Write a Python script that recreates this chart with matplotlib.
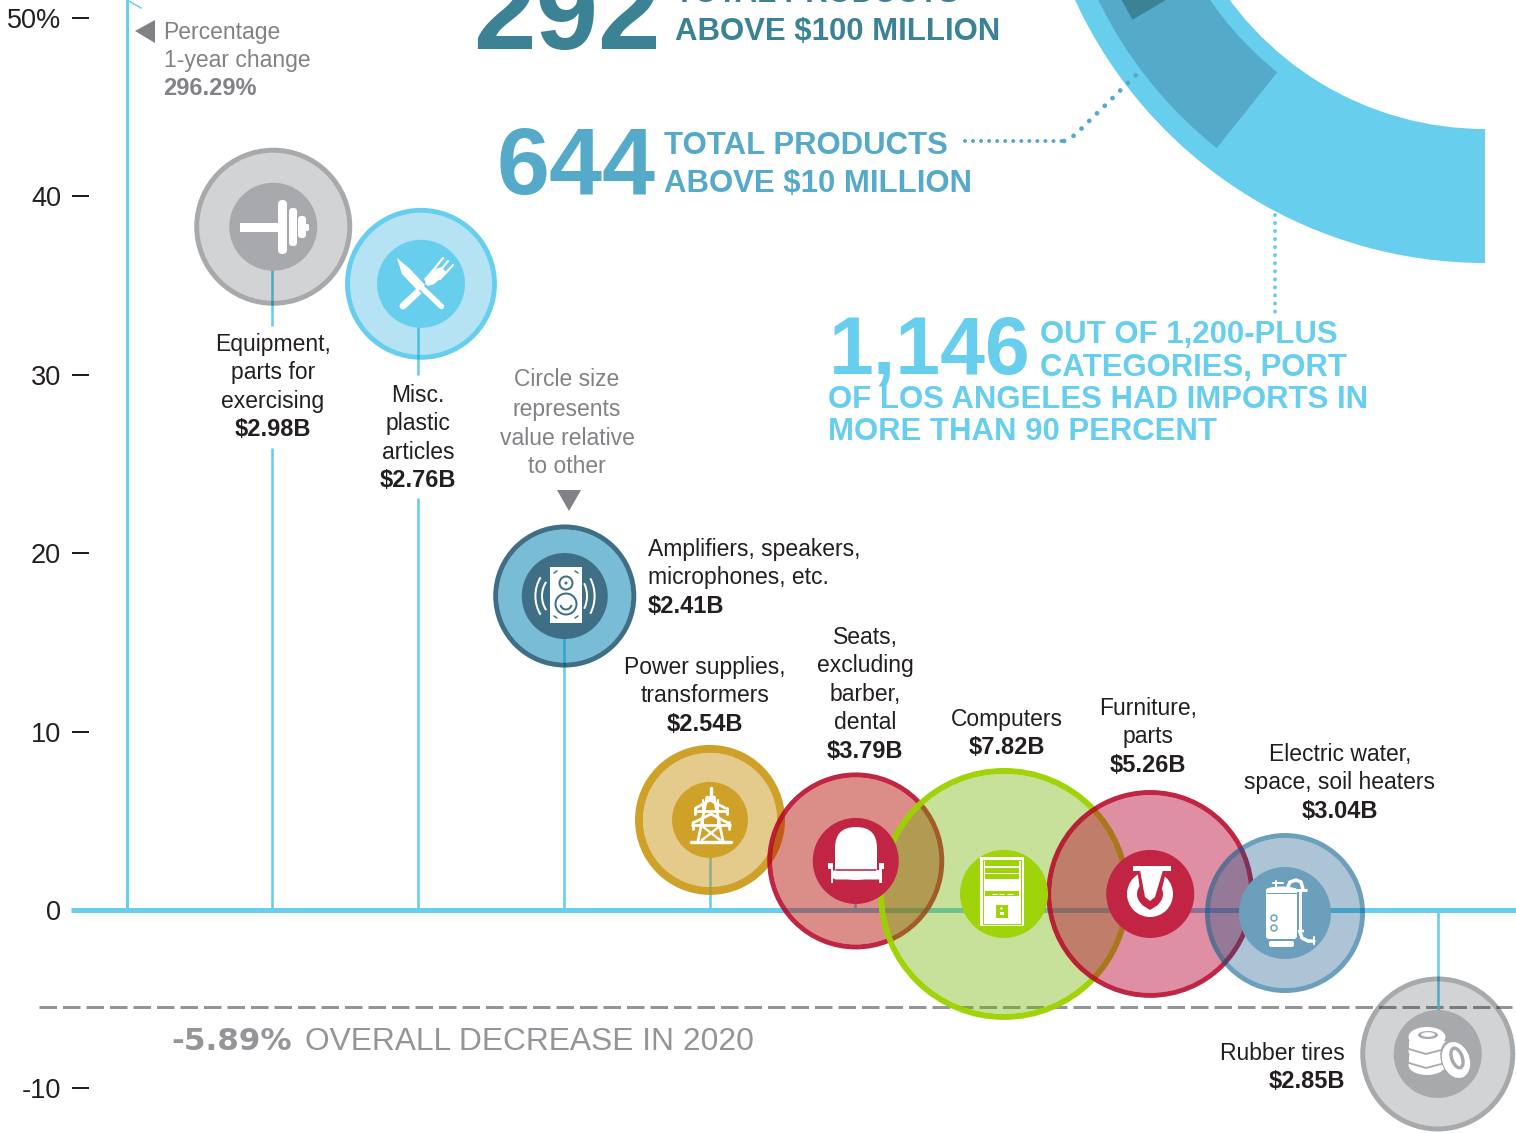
import numpy as np
import matplotlib
matplotlib.use("Agg")
import matplotlib.pyplot as plt
from matplotlib.colors import to_rgb
from matplotlib.patches import Wedge, Rectangle, FancyBboxPatch, Polygon, Circle, Ellipse, Arc

# ---------- data ----------
categories = [
    ["Equipment,", "parts for", "exercising"],
    ["Misc.", "plastic", "articles"],
    ["Amplifiers, speakers,", "microphones, etc."],
    ["Power supplies,", "transformers"],
    ["Seats,", "excluding", "barber,", "dental"],
    ["Computers"],
    ["Furniture,", "parts"],
    ["Electric water,", "space, soil heaters"],
    ["Rubber tires"],
]
value_billions = [2.98, 2.76, 2.41, 2.54, 3.79, 7.82, 5.26, 3.04, 2.85]
change_pct = [38.3, 35.1, 17.6, 5.05, 2.75, 0.9, 0.9, -0.17, -8.07]
outlier_pct = 296.29
overall_label = "-5.89%"
overall_line_pos = -5.44
y_ticks = [-10, 0, 10, 20, 30, 40, 50]
y_tick_labels = ["-10", "0", "10", "20", "30", "40", "50%"]
ring_angles_start = [90, 128.6, 149.5]

# ---------- style ----------
PXY = 17.84
PXX = 145.75
X0 = 126.5
Y0 = 910
W, H = 1516, 1133
INK = "#231F20"
GREY = "#808285"
BLUE = "#67CEEE"
MID = "#55A9C9"
TEAL = "#3A8294"
FONT = "Liberation Sans"

fills = ["#D1D3D4", "#B5E3F4", "#79BDD6", "#E5CB8C", "#DB8E88", "#C7E09A", "#DF8FA3", "#ADC4D6", "#D1D3D4"]
rings = ["#A7A9AC", "#67CEEE", "#3F6F86", "#CFA128", "#C12543", "#A0D40A", "#C12543", "#6B9FBB", "#A7A9AC"]
ring_w = [5, 5, 5, 8, 5, 6, 5, 5, 5]
disc_r = [44, 44, 43, 38, 43, 44, 44, 46, 44]
bubble_dx = [1, 3, 1, 0.5, 0.5, 3, 3.5, -7.5, -0.5]
R_SCALE = 45.3
r_adjust = [0.8, 0.7, 1.2, 2.8, 0.3, -0.7, 0, 1, 1]
label_x = [273, 418, 648, 705, 865, 1007, 1148, 1340, 1345]
label_y = [351, 402, 556, 674, 644, 726, 715, 761, 1060]
label_ha = ["center", "center", "left", "center", "center", "center", "center", "center", "right"]
stem_gaps = {0: (448, 326), 1: (498, 375)}


def pt(px):
    return px * 0.72


def mul(c):
    """RGBA that darkens what lies below, like a multiply blend."""
    r = np.array(to_rgb(c))
    a = max(1 - r.min(), 0.01)
    rgb = np.clip((r - (1 - a)) / a, 0, 1)
    return (float(rgb[0]), float(rgb[1]), float(rgb[2]), float(a))


def yv(px):
    return (Y0 - px) / PXY


def xv(px):
    return (px - X0) / PXX


fig = plt.figure(figsize=(W / 100, H / 100), dpi=100, facecolor="white")
ax = fig.add_axes([0, 0, 1, 1])
ax.set_xlim(xv(0), xv(W))
ax.set_ylim(yv(H), yv(0))
ax.patch.set_visible(False)
for s in ["top", "right", "bottom"]:
    ax.spines[s].set_visible(False)
ax.spines["left"].set_position(("data", xv(89)))
ax.spines["left"].set_color("none")
ax.set_xticks([])
ax.set_yticks(y_ticks)
ax.set_yticklabels(y_tick_labels, fontname=FONT, fontsize=19.5, color=INK)
ax.tick_params(axis="y", length=pt(17), width=pt(2), color=INK, pad=pt(11), direction="out")

# top layer in pixels for the decoration and the text
px = fig.add_axes([0, 0, 1, 1])
px.set_xlim(0, W)
px.set_ylim(H, 0)
px.axis("off")

# ---------- chart marks ----------
idx = np.arange(1, len(value_billions) + 1)
ax.hlines(overall_line_pos, xv(39), xv(1512), color=mul("#939598"), lw=pt(3),
          linestyles=[(0, (17.5 / 3, 6 / 3))], zorder=1)
ax.hlines(0, xv(71), xv(W), color=BLUE, lw=pt(5), zorder=2)
ax.vlines(0, 0, outlier_pct, color=BLUE, lw=pt(3), zorder=2)
for i, (x, v) in enumerate(zip(idx, change_pct)):
    if i in stem_gaps:
        lo, hi = stem_gaps[i]
        ax.vlines(x, 0, yv(lo), color=BLUE, lw=pt(2.6), zorder=2)
        ax.vlines(x, yv(hi), v, color=BLUE, lw=pt(2.6), zorder=2)
    else:
        ax.vlines(x, 0, v, color=BLUE, lw=pt(2.6), zorder=2)

for i, (x, v, b) in enumerate(zip(idx, change_pct, value_billions)):
    r = R_SCALE * np.sqrt(b) + r_adjust[i]
    cx = x + bubble_dx[i] / PXX
    w = ring_w[i]
    # two line widths keep the marker at its sub-pixel position
    ax.scatter([cx], [v], s=pt(2 * (r - w)) ** 2, color=[mul(fills[i])], linewidths=[0, 0], zorder=3 + i * 0.1)
    ax.scatter([cx], [v], s=pt(2 * (r - w / 2)) ** 2, facecolors="none", edgecolors=[mul(rings[i])],
               linewidths=[pt(w), pt(w)], zorder=3 + i * 0.1 + 0.01)
    ax.scatter([cx], [v], s=pt(2 * disc_r[i]) ** 2, color=[rings[i]], linewidths=[0, 0], zorder=5)

# ---------- donut ----------
C = (1485, -188)
px.add_patch(Wedge(C, 451, ring_angles_start[0], 215, width=134, fc=BLUE, ec="none", zorder=1))
px.add_patch(Wedge(C, 430, ring_angles_start[1], 215, width=97, fc=MID, ec="none", zorder=2))
px.add_patch(Wedge(C, 409, ring_angles_start[2], 215, width=62, fc=TEAL, ec="none", zorder=3))

px.plot([965, 1066], [141, 141], color=MID, lw=pt(4), linestyle=(0, (0.01, 2.0)), dash_capstyle="round", zorder=4)
px.plot([1064, 1075, 1137], [141, 135, 74], color=MID, lw=pt(4.8), linestyle=(0, (0.01, 2.25)), dash_capstyle="round", zorder=4)
px.plot([1275, 1275], [215, 312], color=BLUE, lw=pt(4), linestyle=(0, (0.01, 2.0)), dash_capstyle="round", zorder=4)


# ---------- text ----------
def T(x, y, s, size=16.5, color=INK, weight="normal", ha="left", family=FONT):
    px.text(x, y, s, fontsize=size, color=color, fontweight=weight, ha=ha, va="baseline",
            fontfamily=family, zorder=20)


for i, lines in enumerate(categories):
    y = label_y[i]
    for ln_ in lines:
        T(label_x[i], y, ln_, ha=label_ha[i])
        y += 28.4
    T(label_x[i], y, f"${value_billions[i]:.2f}B", size=17, weight="bold", ha=label_ha[i])

T(163.5, 39, "Percentage", color=GREY)
T(163.5, 67.5, "1-year change", color=GREY)
T(163.5, 95, f"{outlier_pct:.2f}%", size=17, weight="bold", color=GREY)
for y, s in zip([386, 416, 445, 473], ["Circle size", "represents", "value relative", "to other"]):
    T(567, y, s, color=GREY, ha="center")

px.add_patch(Polygon([(135, 31), (155, 20), (155, 43)], fc=GREY, ec="none"))
px.add_patch(Polygon([(557, 490), (581, 490), (569, 511)], fc=GREY, ec="none"))
px.plot([127, 141], [0, 8], color=BLUE, lw=pt(1.5))

T(473, 49, "292", size=81, weight="bold", color=TEAL)
T(675, 2, "TOTAL PRODUCTS", size=22.4, weight="bold", color=TEAL)
T(675, 40, "ABOVE $100 MILLION", size=22.4, weight="bold", color=TEAL)
T(497, 194, "644", size=68.5, weight="bold", color=MID)
T(664, 154, "TOTAL PRODUCTS", size=22.4, weight="bold", color=MID)
T(664, 192, "ABOVE $10 MILLION", size=22.4, weight="bold", color=MID)
T(829, 373, "1,146", size=58, weight="bold", color=BLUE)
T(1040, 343, "OUT OF 1,200-PLUS", size=22.4, weight="bold", color=BLUE)
T(1040, 376, "CATEGORIES, PORT", size=22.4, weight="bold", color=BLUE)
T(828, 408, "OF LOS ANGELES HAD IMPORTS IN", size=22.4, weight="bold", color=BLUE)
T(828, 440, "MORE THAN 90 PERCENT", size=22.4, weight="bold", color=BLUE)

T(171, 1050, overall_label, size=22.4, weight="bold", color="#939598", family="DejaVu Sans")
T(305, 1050, "OVERALL DECREASE IN 2020", size=22.9, color="#939598")

# ---------- icons ----------
WH = "white"


def rr(x0, y0, x1, y1, rad, fc=WH):
    px.add_patch(FancyBboxPatch((x0 + rad, y0 + rad), x1 - x0 - 2 * rad, y1 - y0 - 2 * rad,
                                boxstyle=f"round,pad={rad}", fc=fc, ec="none", zorder=10))


def ln(xs, ys, w=2, c=WH, cap="round"):
    px.plot(xs, ys, color=c, lw=pt(w), solid_capstyle=cap, zorder=11)


def poly(p, c=WH, z=10):
    px.add_patch(Polygon(p, fc=c, ec="none", zorder=z))


def circ(x, y, r, fc=WH, ec="none", lw=0, z=11):
    px.add_patch(Circle((x, y), r, fc=fc, ec=ec, lw=pt(lw), zorder=z))


# barbell
px.add_patch(Rectangle((240, 222.5), 40, 9.5, fc=WH, ec="none", zorder=10))
rr(278, 200, 287, 254, 4.4)
rr(289, 208, 297, 246, 3.5)
rr(298, 216, 306, 238, 3.5)
rr(305, 224, 309, 231, 1.5)

# knife and fork
ln([403, 419], [306, 291], 7)
ln([419, 430], [291, 281], 3.5)
poly([(424, 279), (431, 271), (441, 267), (446, 272), (440, 279), (434, 284), (428, 286)], z=10.8)
ln([431, 443], [273, 258], 2.2)
ln([436, 448], [276, 261], 2.2)
ln([440, 453], [279, 265], 2.2)
M = rings[1]
ln([412, 441], [277, 306], 9.5, M)
ln([420, 441.5], [286, 306.5], 5.5)
px.add_patch(Polygon([(397, 258), (410, 269), (425, 285), (418, 291), (402, 274)], fc=WH, ec="none", zorder=12))

# speaker
D = rings[2]
px.add_patch(Rectangle((550, 567), 32, 56, fc=WH, ec="none", zorder=10))
circ(566, 583, 6.5, fc=WH, ec=D, lw=2)
circ(566, 583, 1.5, fc=D)
circ(566, 604, 10.5, fc=WH, ec=D, lw=2)
px.add_patch(Arc((566, 604), 11, 11, theta1=10, theta2=170, ec=D, lw=pt(2), zorder=12))
for x0, x1 in [(544, 585), (538, 592)]:
    ang = 30
    px.add_patch(Arc((562 + (x0 - 544) * 0.1, 596), 2 * (562 - x0) + 4, 46 if x0 == 544 else 62,
                     theta1=180 - ang * 1.4, theta2=180 + ang * 1.4, ec=WH, lw=pt(2), zorder=11))
    px.add_patch(Arc((570 - (x0 - 544) * 0.1, 596), 2 * (x1 - 570) + 4, 46 if x0 == 544 else 62,
                     theta1=-ang * 1.4, theta2=ang * 1.4, ec=WH, lw=pt(2), zorder=11))
for a, b in [((554, 573), (557, 571)), ((575, 571), (578, 573)), ((554, 616), (557, 618)), ((575, 618), (578, 616))]:
    ln([a[0], b[0]], [a[1], b[1]], 1.5, D)

# tower
ln([691, 731], [842, 842], 3.4)
ln([707, 698], [797, 841], 2.8)
ln([714, 723], [797, 841], 2.8)
ln([710.5, 710.5], [788, 800], 3.4)
ln([707, 714], [797, 797], 2.8)
ln([696, 710, 725], [808, 800, 808], 2.8)
ln([695, 727], [811, 811], 2.8)
ln([695, 695], [808, 814], 2.8)
ln([727, 727], [808, 814], 2.8)
ln([693, 711, 728], [823, 814, 823], 2.8)
ln([692, 730], [825, 825], 2.8)
ln([693, 693], [822, 829], 2.8)
ln([729, 729], [822, 829], 2.8)
ln([703, 703], [800, 824], 2)
ln([718, 718], [800, 824], 2)
ln([702, 720], [826, 840], 2.4)
ln([720, 702], [826, 840], 2.4)

# chair
rr(835, 827, 877, 880, 21)
px.add_patch(Rectangle((835, 850), 42, 20, fc=WH, ec="none", zorder=10))
ln([836, 876], [869.5, 869.5], 1.6, rings[4])
rr(832, 870, 882, 879.5, 4.5)
px.add_patch(Rectangle((828, 862.5), 5, 6, fc=WH, ec="none", zorder=11))
px.add_patch(Rectangle((879, 862.5), 5, 6, fc=WH, ec="none", zorder=11))
px.add_patch(Rectangle((830.5, 864), 2.5, 19, fc=WH, ec="none", zorder=11))
px.add_patch(Rectangle((879, 864), 2.5, 19, fc=WH, ec="none", zorder=11))

# computer
G = rings[5]
px.add_patch(Rectangle((980, 857), 43.5, 69, fc=WH, ec="none", zorder=10))
px.add_patch(Rectangle((982.5, 859.5), 38.5, 64, fc="none", ec=G, lw=pt(1), zorder=11))
for y0, y1 in [(861, 866), (868, 872.5), (874, 878.5), (891, 895.5)]:
    px.add_patch(Rectangle((984.5, y0), 34.5, y1 - y0, fc=G, ec="none", zorder=11))
ln([992, 997], [893.5, 893.5], 1, WH, "butt")
ln([999, 1004], [893.5, 893.5], 1, WH, "butt")
ln([1007, 1013], [893.5, 893.5], 1, WH, "butt")
px.add_patch(Rectangle((996, 905), 11.5, 13, fc=G, ec="none", zorder=11))
px.add_patch(Rectangle((999.5, 912), 4.5, 3, fc=WH, ec="none", zorder=12))
circ(1001.5, 908.5, 1.2, z=12)

# caster
R = rings[6]
circ(1150, 894, 23, z=10)
circ(1150, 894, 13, fc=R, z=10.2)
poly([(1137, 868), (1167, 868), (1158, 905), (1150, 910), (1142, 905)], c=R, z=10.5)
poly([(1140, 870), (1163, 870), (1155, 897), (1150, 901), (1145, 897)], z=11)
px.add_patch(Rectangle((1133, 866), 38, 5, fc=WH, ec="none", zorder=11))

# boiler
B = rings[7]
rr(1266, 888, 1297, 939, 3)
px.add_patch(Ellipse((1281.5, 890), 31, 7, fc=WH, ec="none", zorder=10))
ln([1267, 1296], [893, 893], 1, B)
rr(1269, 941, 1294, 947, 2)
circ(1274, 918, 3, fc=WH, ec=B, lw=1.5)
circ(1274, 928, 3, fc=WH, ec=B, lw=1.5)
ln([1287, 1290, 1296, 1301, 1303], [889, 882, 880, 882, 889], 3.5)
ln([1300, 1300], [891, 932], 3)
ln([1296, 1307], [890, 890], 3, cap="butt")
ln([1298, 1304], [931, 931], 2.5, cap="butt")
ln([1300, 1302, 1308, 1314], [932, 938, 941, 941], 3.5)
ln([1314, 1314], [937, 944], 2)
ln([1273, 1283], [883, 883], 2)
ln([1276, 1276], [881, 887], 2)

# tires
A = rings[8]
for y in [1057, 1043]:
    px.add_patch(Ellipse((1427, y + 8), 37, 20, fc=WH, ec="none", zorder=10))
    px.add_patch(Rectangle((1408.5, y - 2), 37, 10, fc=WH, ec="none", zorder=10))
    ln([1409, 1426, 1445], [y + 6, y + 11, y + 6], 1.8, A)
px.add_patch(Ellipse((1427, 1037), 37, 20, fc=WH, ec="none", zorder=10.5))
px.add_patch(Ellipse((1428, 1035), 20, 8, fc=A, ec="none", zorder=11))
px.add_patch(Ellipse((1428, 1034.5), 14, 4.5, fc=WH, ec="none", zorder=11))
px.add_patch(Ellipse((1456, 1059), 30, 41, angle=-20, fc=A, ec="none", zorder=11.5))
px.add_patch(Ellipse((1456, 1060), 27, 37, angle=-20, fc=WH, ec="none", zorder=12))
px.add_patch(Ellipse((1457, 1058), 14, 24, angle=-20, fc=A, ec="none", zorder=13))
px.add_patch(Ellipse((1457, 1058), 7, 17, angle=-20, fc=WH, ec="none", zorder=14))

fig.savefig("out.png", dpi=100, facecolor="white")
